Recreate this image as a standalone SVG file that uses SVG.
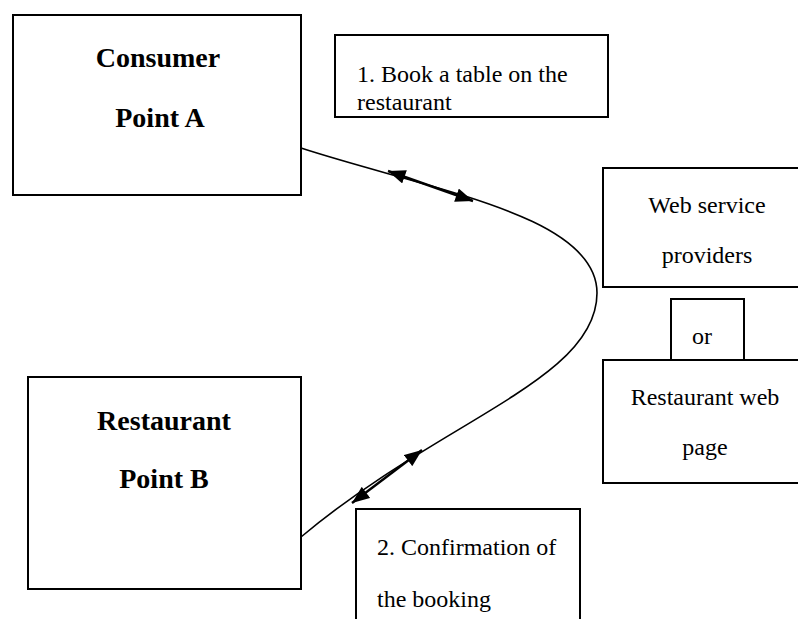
<svg xmlns="http://www.w3.org/2000/svg" width="798" height="619" viewBox="0 0 798 619">
  <style>
    .box { fill: #fff; stroke: #000; stroke-width: 2; }
    .bold { font-family: "Liberation Serif", "Times New Roman", serif; font-weight: bold; font-size: 28px; fill: #000; text-anchor: middle; }
    .reg { font-family: "Liberation Serif", "Times New Roman", serif; font-size: 24px; fill: #000; }
    .mid { text-anchor: middle; }
    .curve { fill: none; stroke: #000; stroke-width: 1.6; }
    .dbl { fill: none; stroke: #000; stroke-width: 2.4; }
  </style>
  <defs>
    <marker id="head" viewBox="0 0 10 8" refX="10" refY="4" markerWidth="18" markerHeight="14" orient="auto-start-reverse" markerUnits="userSpaceOnUse">
      <path d="M0,0 L10,4 L0,8 Z" fill="#000"/>
    </marker>
  </defs>
  <rect width="798" height="619" fill="#fff"/>

  <g id="connectors">
    <path class="curve" d="M301,148 C430,190 597,215 597,293 C597,380 440,420 301,537"/>
    <line class="dbl" x1="388" y1="171" x2="473" y2="201" marker-start="url(#head)" marker-end="url(#head)"/>
    <line class="dbl" x1="422" y1="450" x2="352" y2="503" marker-start="url(#head)" marker-end="url(#head)"/>
  </g>

  <g id="consumer">
    <rect class="box" x="13" y="15" width="288" height="180"/>
    <text class="bold" x="158" y="67">Consumer</text>
    <text class="bold" x="160" y="127">Point A</text>
  </g>

  <g id="restaurant">
    <rect class="box" x="28" y="377" width="273" height="212"/>
    <text class="bold" x="164" y="430">Restaurant</text>
    <text class="bold" x="164" y="488">Point B</text>
  </g>

  <g id="step1">
    <rect class="box" x="335" y="35" width="273" height="82"/>
    <text class="reg" x="357" y="82">1. Book a table on the</text>
    <text class="reg" x="357" y="110">restaurant</text>
  </g>

  <g id="web-providers">
    <rect class="box" x="603" y="168" width="200" height="119"/>
    <text class="reg mid" x="707" y="213">Web service</text>
    <text class="reg mid" x="707" y="263">providers</text>
  </g>

  <g id="or">
    <rect class="box" x="671" y="299" width="73" height="61"/>
    <text class="reg mid" x="702" y="344">or</text>
  </g>

  <g id="restaurant-web">
    <rect class="box" x="603" y="360" width="200" height="123"/>
    <text class="reg mid" x="705" y="405">Restaurant web</text>
    <text class="reg mid" x="705" y="455">page</text>
  </g>

  <g id="step2">
    <rect class="box" x="356" y="509" width="224" height="130"/>
    <text class="reg" x="377" y="555">2. Confirmation of</text>
    <text class="reg" x="377" y="607">the booking</text>
  </g>
</svg>
